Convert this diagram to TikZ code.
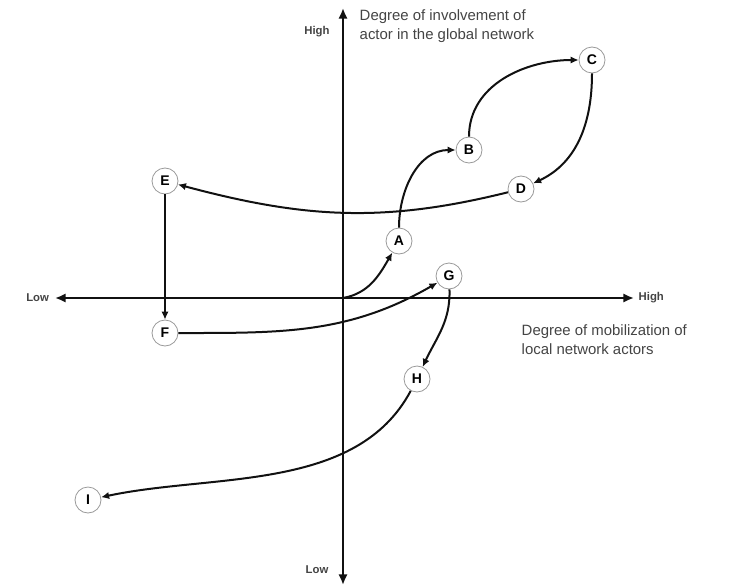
\documentclass[tikz,border=0pt]{standalone}
\usepackage{fontspec}
\setmainfont{Liberation Sans}
\usetikzlibrary{arrows.meta,positioning}
\definecolor{ring}{HTML}{9A9A9A}
\definecolor{ink}{HTML}{111111}
\definecolor{note}{HTML}{444444}

\begin{document}
\begin{tikzpicture}[x=0.75pt,y=0.75pt,>={Latex[length=6pt,width=5.5pt]}]
\tikzset{actor/.style={circle,draw=ring,line width=0.6pt,fill=white,minimum size=19.5pt,inner sep=0pt,font=\bfseries\fontsize{10.5}{10.5}\selectfont},
  axis/.style={-{Latex[length=8pt,width=7pt]},line width=2.2pt,ink},
  move/.style={->,line width=1.5pt,ink},
  tag/.style={font=\bfseries\fontsize{8.5}{9}\selectfont,text=note},
  caption/.style={align=left,font=\fontsize{11.2}{14}\selectfont,text=note}}
\useasboundingbox (0,0) rectangle (734,587);
% axes
\coordinate (O) at (343,289);
\coordinate (left) at (55,289);
\coordinate (right) at (634,289);
\coordinate (top) at (343,579);
\coordinate (bottom) at (343,2);
\draw[axis] (O)--(left);
\draw[axis] (O)--(right);
\draw[axis] (O)--(top);
\draw[axis] (O)--(bottom);
\node[tag,left=1pt of left] (lowx) {Low};
\node[tag,right=0pt of right] (highx) {High};
\node[tag] (highy) at (317,555) {High};
\node[tag] (lowy) at (317,17) {Low};
\node[caption,anchor=north west] (ylab) at (355,582) {Degree of involvement of\\actor in the global network};
\node[caption,anchor=north west] (xlab) at (517,267) {Degree of mobilization  of\\local network actors};
% actors
\node[actor] (A) at (399,346) {A};
\node[actor] (B) at (469,437) {B};
\node[actor] (C) at (592,527) {C};
\node[actor] (D) at (521,398) {D};
\node[actor] (E) at (165,406) {E};
\node[actor] (F) at (165,254) {F};
\node[actor] (G) at (449,311) {G};
\node[actor] (H) at (417,208) {H};
\node[actor] (I) at (88,87) {I};
% path of the actor
\draw[move] (O) to[out=10,in=240] (A);
\draw[move] (A) to[out=90,in=180] (B);
\draw[move] (B) to[out=90,in=180] (C);
\draw[move] (C) to[out=270,in=25] (D);
\draw[move] (D) to[out=194,in=-15] (E);
\draw[move] (E)--(F);
\draw[move] (F) to[out=0,in=210] (G);
\draw[move] (G) to[out=272,in=65] (H);
\draw[move] (H) to[out=242,in=12,looseness=0.9] (I);
\end{tikzpicture}
\end{document}
